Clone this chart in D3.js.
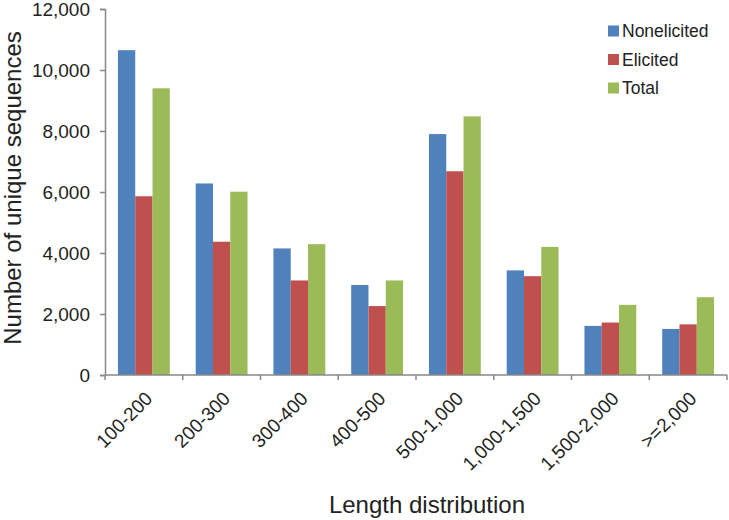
<!DOCTYPE html>
<html>
<head>
<meta charset="utf-8">
<script src="https://cdn.jsdelivr.net/npm/d3@7"></script>
<style>
  body { margin: 0; background: #fff; }
  text { font-family: "Liberation Sans", Arial, sans-serif; fill: #222; }
</style>
</head>
<body>
<div id="chart"></div>
<script>
// Categories and series
var categories = ["100-200", "200-300", "300-400", "400-500", "500-1,000", "1,000-1,500", "1,500-2,000", ">=2,000"];
var seriesNames = ["Nonelicited", "Elicited", "Total"];
var nonelicited = [10650, 6280, 4150, 2950, 7900, 3430, 1610, 1510];
var elicited = [5860, 4370, 3100, 2260, 6680, 3240, 1720, 1660];
var total = [9400, 6010, 4290, 3100, 8480, 4200, 2300, 2550];
var yTicks = [0, 2000, 4000, 6000, 8000, 10000, 12000];
var colors = ["#4F81BD", "#C0504D", "#9BBB59"];

var width = 729, height = 520;
var margin = {top: 9, right: 2, bottom: 145, left: 105};

var svg = d3.select("#chart")
    .append("svg")
    .attr("width", width)
    .attr("height", height);

var x = d3.scaleBand()
    .domain(categories)
    .range([margin.left, width - margin.right])
    .paddingInner(0)
    .paddingOuter(0);

var y = d3.scaleLinear()
    .domain([0, 12000])
    .range([height - margin.bottom, margin.top]);

// Excel style clustered bars: gap width 150%
var barW = x.bandwidth() / 4.5;
var xs = d3.scaleBand()
    .domain(seriesNames)
    .range([barW * 0.75, barW * 3.75]);

var allSeries = [nonelicited, elicited, total];

var groups = svg.selectAll("g.series")
    .data(allSeries)
    .enter()
    .append("g")
    .attr("class", "series")
    .attr("fill", function(d, i) { return colors[i]; });

groups.each(function(vals, si) {
    d3.select(this).selectAll("rect")
        .data(vals)
        .enter()
        .append("rect")
        .attr("x", function(d, i) { return x(categories[i]) + xs(seriesNames[si]); })
        .attr("y", function(d) { return y(d); })
        .attr("width", xs.bandwidth())
        .attr("height", function(d) { return y(0) - y(d); });
});

// Y axis
var yAxis = svg.append("g")
    .attr("transform", "translate(" + margin.left + ",0)")
    .call(d3.axisLeft(y).tickValues(yTicks).tickSize(5).tickPadding(10).tickFormat(d3.format(",")));
yAxis.select(".domain").attr("stroke", "#888").attr("stroke-width", 1.5);
yAxis.selectAll(".tick line").attr("stroke", "#888").attr("stroke-width", 1.5);
yAxis.selectAll("text").style("font-size", "19px").attr("fill", "#222");

// X axis with ticks on band boundaries
var xAxis = svg.append("g")
    .attr("transform", "translate(0," + y(0) + ")");
xAxis.append("line")
    .attr("x1", margin.left)
    .attr("x2", width - margin.right)
    .attr("stroke", "#888")
    .attr("stroke-width", 1.5);
var bounds = categories.map(function(c) { return x(c); }).concat([x(categories[categories.length - 1]) + x.bandwidth()]);
xAxis.selectAll("line.tick")
    .data(bounds)
    .enter()
    .append("line")
    .attr("class", "tick")
    .attr("x1", function(d) { return d; })
    .attr("x2", function(d) { return d; })
    .attr("y1", 0)
    .attr("y2", 5)
    .attr("stroke", "#888")
    .attr("stroke-width", 1.5);
xAxis.selectAll("text")
    .data(categories)
    .enter()
    .append("text")
    .attr("transform", function(d) {
        return "translate(" + (x(d) + x.bandwidth() / 2 + 5) + ",20) rotate(-45)";
    })
    .attr("text-anchor", "end")
    .attr("dy", "0.35em")
    .style("font-size", "19px")
    .text(function(d) { return d; });

// Axis titles
svg.append("text")
    .attr("transform", "translate(21," + ((margin.top + y(0)) / 2 - 4) + ") rotate(-90)")
    .attr("text-anchor", "middle")
    .style("font-size", "24px")
    .text("Number of unique sequences");

svg.append("text")
    .attr("x", 427)
    .attr("y", 513)
    .attr("text-anchor", "middle")
    .style("font-size", "24px")
    .text("Length distribution");

// Legend
var legend = svg.append("g")
    .attr("transform", "translate(608,31)");
var item = legend.selectAll("g")
    .data(seriesNames)
    .enter()
    .append("g")
    .attr("transform", function(d, i) { return "translate(0," + i * 28.5 + ")"; });
item.append("rect")
    .attr("x", 0)
    .attr("y", -5.5)
    .attr("width", 11)
    .attr("height", 11)
    .attr("fill", function(d, i) { return colors[i]; });
item.append("text")
    .attr("x", 14)
    .attr("dy", "0.35em")
    .style("font-size", "17.5px")
    .text(function(d) { return d; });
</script>
</body>
</html>
